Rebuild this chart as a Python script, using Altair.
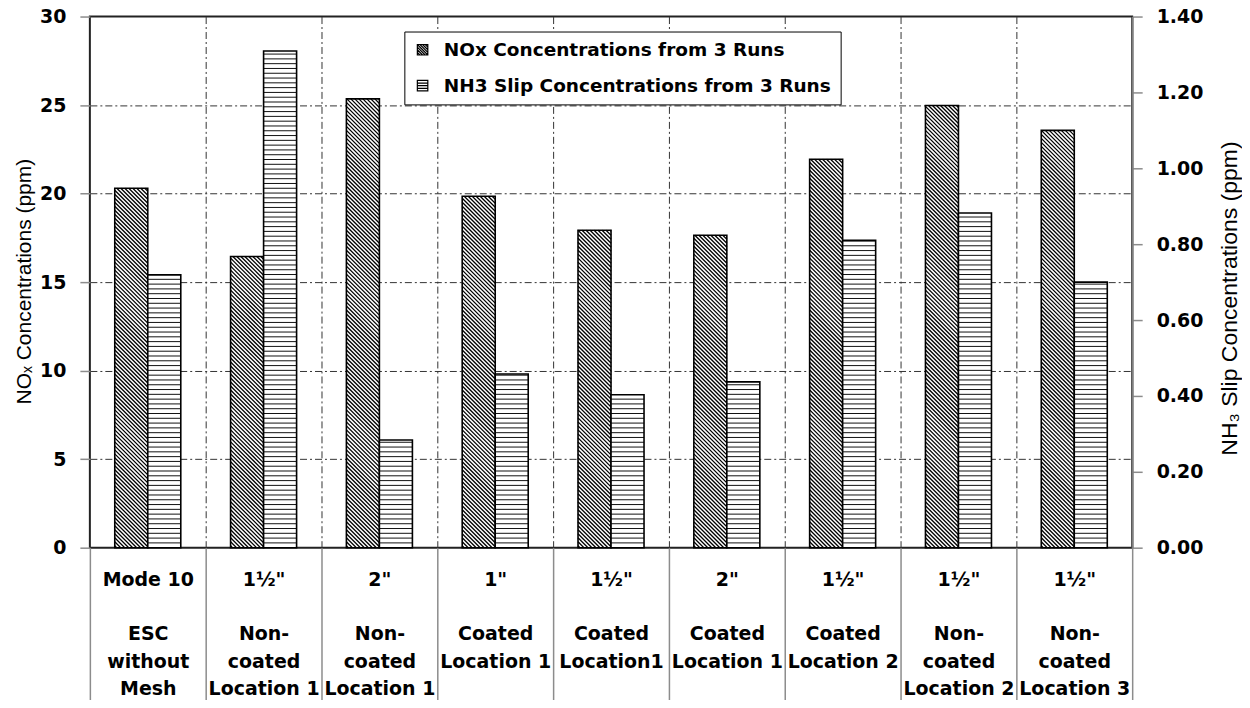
import altair as alt
import pandas as pd

# ---------------- data ----------------
size_labels = ['Mode 10', '1½"', '2"', '1"', '1½"', '2"', '1½"', '1½"', '1½"']
desc_labels = ['ESC|without|Mesh', 'Non-|coated|Location 1', 'Non-|coated|Location 1',
               'Coated|Location 1', 'Coated|Location1', 'Coated|Location 1',
               'Coated|Location 2', 'Non-|coated|Location 2', 'Non-|coated|Location 3']
nox = [20.3, 16.45, 25.35, 19.85, 17.93, 17.65, 21.94, 24.98, 23.57]
nh3 = [0.719, 1.309, 0.284, 0.458, 0.403, 0.437, 0.81, 0.882, 0.70]
series = ['NOx Concentrations from 3 Runs', 'NH3 Slip Concentrations from 3 Runs']

# ---------------- layout constants ----------------
W, H = 1044, 532
NCAT = len(nox)
NOX_MAX, NH3_MAX = 30, 1.4
B0, B1, B2 = 0.215, 0.5, 0.785        # bar edges inside a category slot
PX_X = W / NCAT
PX_NOX = H / NOX_MAX
PX_NH3 = H / NH3_MAX
DIAG_STEP = 4.0                        # hatch period (px)
HOR_STEP = 4.8

nox_df = pd.DataFrame({'x1': [i + B0 for i in range(NCAT)], 'x2': [i + B1 for i in range(NCAT)],
                       'v': nox, 'base': 0.0})
nh3_df = pd.DataFrame({'x1': [i + B1 for i in range(NCAT)], 'x2': [i + B2 for i in range(NCAT)],
                       'v': nh3, 'base': 0.0})

# diagonal hatch for NOx bars (derived from the values)
drows = []
for i, v in enumerate(nox):
    x0 = i + B0
    w = (B1 - B0) * PX_X
    h = v * PX_NOX
    c = DIAG_STEP / 2
    while c < w + h:
        pa, pb = max(0.0, c - h), min(w, c)
        drows.append({'x1': x0 + pa / PX_X, 'x2': x0 + pb / PX_X,
                      'y1': (c - pa) / PX_NOX, 'y2': (c - pb) / PX_NOX})
        c += DIAG_STEP
diag_df = pd.DataFrame(drows)

# horizontal hatch for NH3 bars
hrows = []
for i, v in enumerate(nh3):
    k = 1
    while k * HOR_STEP / PX_NH3 < v - 0.5 / PX_NH3:
        hrows.append({'x1': i + B1, 'x2': i + B2, 'y': k * HOR_STEP / PX_NH3})
        k += 1
hor_df = pd.DataFrame(hrows)

# ---------------- axes ----------------
ZWSP = '\u200b'
full_labels = [s + '|' + ZWSP + '|' + d for s, d in zip(size_labels, desc_labels)]
lab_arr = '[' + ','.join("'" + s + "'" for s in full_labels) + ']'

BOLD = 'DejaVu Sans'
xaxis = alt.Axis(
    values=[k * 0.5 for k in range(2 * NCAT + 1)], title=None, domain=False,
    grid=True, gridColor='#333333', gridDash=[7, 3, 2, 3], gridWidth=1,
    gridOpacity={'condition': {'test': 'datum.value % 1 == 0 && datum.value > 0 && datum.value < 9', 'value': 1}, 'value': 0},
    ticks=True, tickSize=162, tickColor='#8c8c8c', tickWidth=1.5,
    tickOpacity={'condition': {'test': 'datum.value % 1 == 0', 'value': 1}, 'value': 0},
    labelExpr="datum.value % 1 == 0.5 ? split(" + lab_arr + "[floor(datum.value)], '|') : ''",
    labelPadding=-139, labelBaseline='top', labelLineHeight=27.2,
    labelFont=BOLD, labelFontWeight='bold', labelFontSize=19, labelColor='black',
    labelOverlap=False, labelFlush=False, labelBound=False, labelAngle=0)

xscale = alt.Scale(domain=[0, NCAT], nice=False, zero=False)

yleft_axis = alt.Axis(
    orient='left', values=[0, 5, 10, 15, 20, 25, 30], domain=False,
    grid=True, gridColor='#333333', gridDash=[7, 3, 2, 3], gridWidth=1,
    gridOpacity={'condition': {'test': 'datum.value > 0 && datum.value < 30', 'value': 1}, 'value': 0},
    tickSize=10, tickColor='#8c8c8c', tickWidth=1.5,
    labelFont=BOLD, labelFontWeight='bold', labelFontSize=19, labelColor='black', labelPadding=14,
    title='NOₓ Concentrations (ppm)', titleFont='Liberation Sans', titleFontSize=21,
    titleFontWeight='normal', titleColor='black', titleAngle=270, titleX=-65, titleY=265,
    titleAlign='center', titleBaseline='middle')
yleft_scale = alt.Scale(domain=[0, NOX_MAX], nice=False)

yright_axis = alt.Axis(
    orient='right', values=[0, 0.2, 0.4, 0.6, 0.8, 1.0, 1.2, 1.4], format='.2f', domain=True,
    domainColor='#7f7f7f', domainWidth=2, grid=False,
    tickSize=10, tickColor='#8c8c8c', tickWidth=1.5,
    labelFont=BOLD, labelFontWeight='bold', labelFontSize=19, labelColor='black', labelPadding=14,
    title='NH₃ Slip Concentrations (ppm)', titleFont='Liberation Sans', titleFontSize=23,
    titleFontWeight='normal', titleColor='black', titleAngle=270, titleX=97, titleY=282,
    titleAlign='center', titleBaseline='middle')
yright_scale = alt.Scale(domain=[0, NH3_MAX], nice=False)

# ---------------- legend symbols ----------------
sq = 'M-1,-1H1V1H-1Z'
diag = ''
for k in [-1.5, -1.0, -0.5, 0.0, 0.5, 1.0, 1.5]:
    if k >= 0:
        diag += f'M{k-1},-1L1,{1-k}'
    else:
        diag += f'M-1,{-1-k}L{1+k},1'
path_nox = sq + diag
path_nh3 = sq + 'M-1,-0.5H1M-1,0H1M-1,0.5H1'

legend = alt.Legend(
    title=None, orient='none', legendX=315, legendY=15, direction='vertical',
    strokeColor='black', fillColor='white', padding=9, cornerRadius=0,
    labelFont=BOLD, labelFontWeight='bold', labelFontSize=18.5, labelColor='black',
    labelLimit=0, labelOffset=12, rowPadding=17, symbolSize=110, symbolStrokeWidth=1.2,
    symbolStrokeColor='black', symbolFillColor='white')

# ---------------- NOx group ----------------
X = lambda f: alt.X(f, type='quantitative', scale=xscale, axis=xaxis)
YL = lambda f: alt.Y(f, type='quantitative', scale=yleft_scale, axis=yleft_axis)
YR = lambda f: alt.Y(f, type='quantitative', scale=yright_scale, axis=yright_axis)

nox_fill = alt.Chart(nox_df).mark_rect(fill='white', strokeWidth=0).encode(
    x=X('x1'), x2='x2', y=YL('v'), y2='base')
nox_hatch = alt.Chart(diag_df).mark_rule(color='black', strokeWidth=1.3).encode(
    x=X('x1'), x2='x2', y=YL('y1'), y2='y2')
nox_outline = alt.Chart(nox_df).mark_rect(fillOpacity=0, stroke='black', strokeWidth=1.6).encode(
    x=X('x1'), x2='x2', y=YL('v'), y2='base')
leg_layer = alt.Chart(pd.DataFrame({'series': series})).mark_point(
    opacity=0, filled=False, color='black').encode(
    shape=alt.Shape('series:N', scale=alt.Scale(domain=series, range=[path_nox, path_nh3]),
                    legend=legend, sort=series))

nox_group = alt.layer(nox_fill, nox_hatch, nox_outline, leg_layer)

# ---------------- NH3 group ----------------
nh3_fill = alt.Chart(nh3_df).mark_rect(fill='white', strokeWidth=0).encode(
    x=X('x1'), x2='x2', y=YR('v'), y2='base')
nh3_hatch = alt.Chart(hor_df).mark_rule(color='#111111', strokeWidth=1).encode(
    x=X('x1'), x2='x2', y=YR('y'))
nh3_outline = alt.Chart(nh3_df).mark_rect(fillOpacity=0, stroke='black', strokeWidth=1.6).encode(
    x=X('x1'), x2='x2', y=YR('v'), y2='base')

nh3_group = alt.layer(nh3_fill, nh3_hatch, nh3_outline)

chart = alt.layer(nox_group, nh3_group).resolve_scale(y='independent').properties(
    width=W, height=H,
    autosize=alt.AutoSizeParams(type='none'),
    padding={'left': 82, 'top': 8, 'right': 110, 'bottom': 152},
).configure_view(stroke='#222222', strokeWidth=2)

chart.save('out.html', embed_options={'renderer': 'svg', 'actions': False})
